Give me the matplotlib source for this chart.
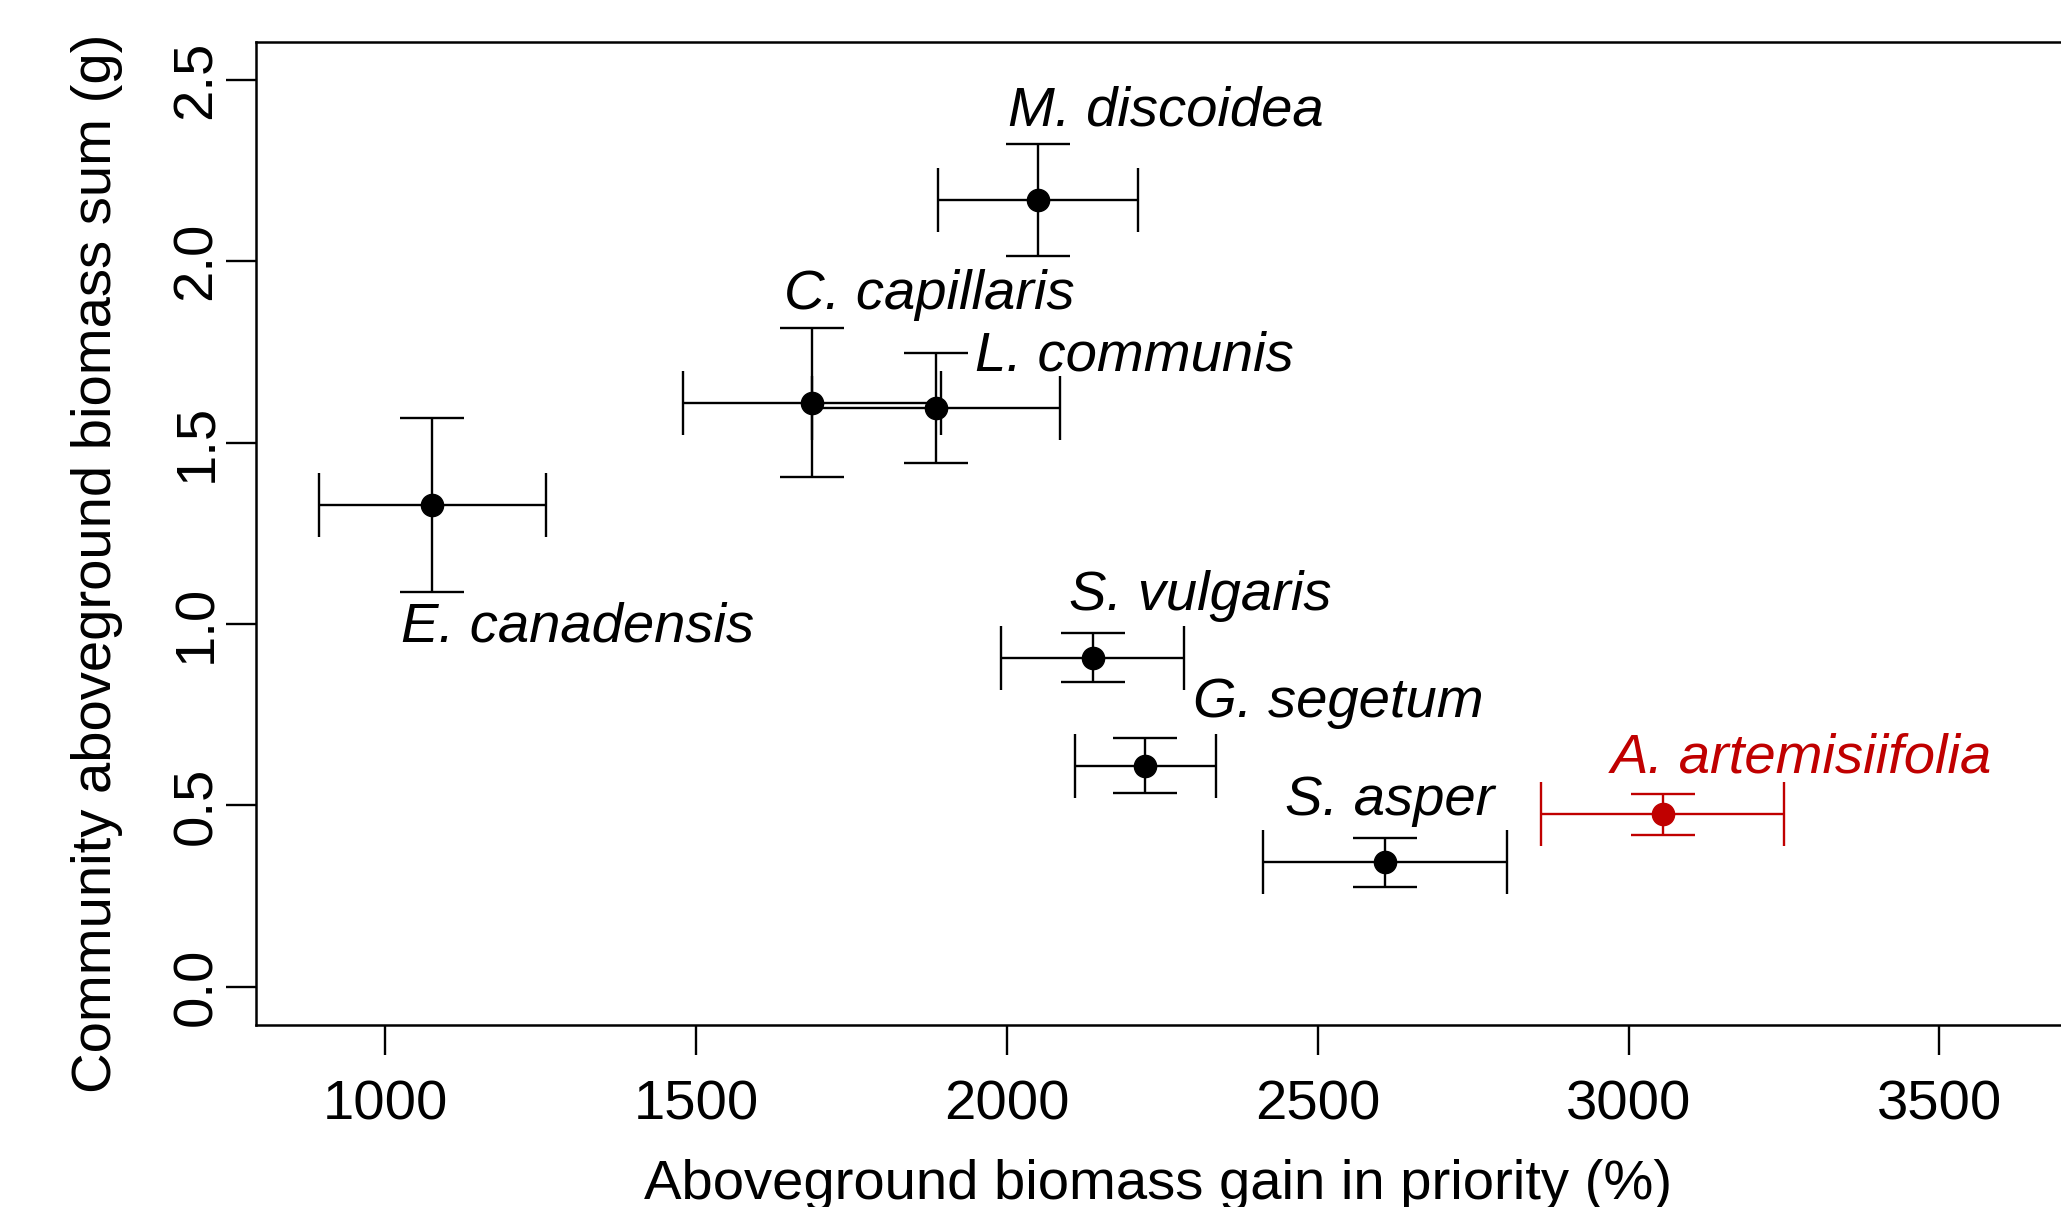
import matplotlib
matplotlib.use("Agg")
import matplotlib.pyplot as plt

plt.rcParams['font.family'] = ['Liberation Sans', 'DejaVu Sans']

# values
species = ["E. canadensis", "C. capillaris", "L. communis", "M. discoidea",
           "S. vulgaris", "G. segetum", "S. asper", "A. artemisiifolia"]
gain = [1076, 1687, 1886, 2050, 2138, 2223, 2608, 3055]
gain_se = [183, 207, 200, 161, 147, 114, 196, 195]
biomass = [1.328, 1.610, 1.595, 2.169, 0.907, 0.610, 0.343, 0.476]
biomass_se = [0.241, 0.205, 0.152, 0.155, 0.067, 0.076, 0.067, 0.057]
colors = ["black"] * 7 + ["#C00000"]

# where each species name sits (left edge, baseline)
label_x = [1026, 1641, 1949, 2002, 2100, 2300, 2447, 2971]
label_y = [0.953, 1.868, 1.698, 2.374, 1.038, 0.744, 0.473, 0.590]

xticks = [1000, 1500, 2000, 2500, 3000, 3500]
yticks = [0.0, 0.5, 1.0, 1.5, 2.0, 2.5]

fs = 40.5

fig = plt.figure(figsize=(20.61, 12.07), dpi=100)
ax = fig.add_axes([0.12407, 0.15079, 0.87967, 0.81466])

for i in range(len(species)):
    ax.errorbar(gain[i], biomass[i], xerr=gain_se[i], yerr=biomass_se[i],
                fmt='o', color=colors[i], ms=16, elinewidth=1.7,
                capsize=23, capthick=1.7, clip_on=False)
    ax.text(label_x[i], label_y[i], species[i], color=colors[i],
            fontsize=fs, style='italic', ha='left', va='baseline')

ax.set_xlim(792, 3708)
ax.set_ylim(-0.105, 2.605)
ax.set_xticks(xticks)
ax.set_xticklabels([str(t) for t in xticks])
ax.set_yticks(yticks)
ax.set_yticklabels(["%.1f" % t for t in yticks])
for sp in ax.spines.values():
    sp.set_linewidth(1.8)
ax.tick_params(axis='both', direction='out', length=21.5, width=1.7,
               labelsize=fs)
ax.tick_params(axis='x', pad=18)
ax.tick_params(axis='y', pad=2)
for lab in ax.get_yticklabels():
    lab.set_rotation(90)
    lab.set_va('center')

fig.text(1158 / 2061, 8 / 1207, "Aboveground biomass gain in priority (%)",
         fontsize=fs, ha='center', va='baseline')
fig.text(97 / 2061, 1 - 563 / 1207, "Community aboveground biomass sum (g)",
         fontsize=fs, ha='center', va='center', rotation=90)

fig.savefig("out.png", dpi=100)
